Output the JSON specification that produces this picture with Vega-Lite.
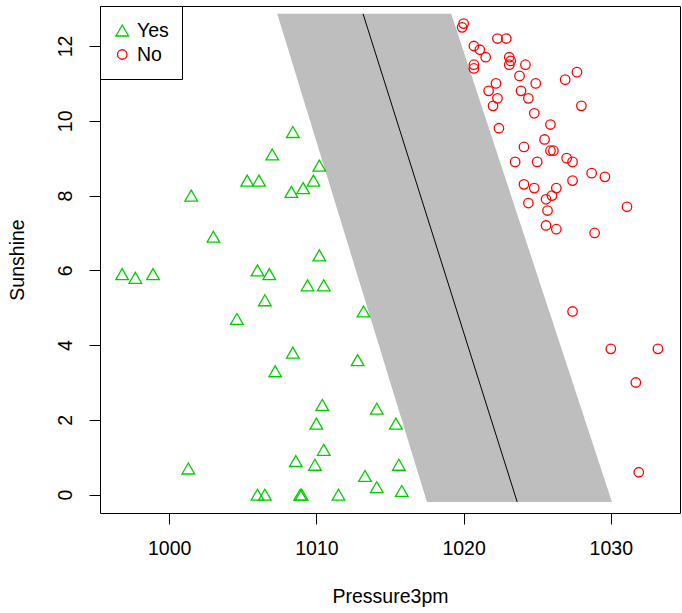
{
  "$schema": "https://vega.github.io/schema/vega-lite/v6.json",
  "width": 580,
  "height": 507,
  "autosize": {"type": "none"},
  "padding": {"left": 100, "top": 6, "right": 2, "bottom": 100},
  "background": "white",
  "datasets": {
    "pts": [
      {"x": 1008.4, "y": 9.7, "RainTomorrow": "Yes"},
      {"x": 1007.0, "y": 9.1, "RainTomorrow": "Yes"},
      {"x": 1010.2, "y": 8.8, "RainTomorrow": "Yes"},
      {"x": 1005.3, "y": 8.4, "RainTomorrow": "Yes"},
      {"x": 1006.1, "y": 8.4, "RainTomorrow": "Yes"},
      {"x": 1009.8, "y": 8.4, "RainTomorrow": "Yes"},
      {"x": 1009.1, "y": 8.2, "RainTomorrow": "Yes"},
      {"x": 1008.3, "y": 8.1, "RainTomorrow": "Yes"},
      {"x": 1001.5, "y": 8.0, "RainTomorrow": "Yes"},
      {"x": 1003.0, "y": 6.9, "RainTomorrow": "Yes"},
      {"x": 1010.2, "y": 6.4, "RainTomorrow": "Yes"},
      {"x": 996.8, "y": 5.9, "RainTomorrow": "Yes"},
      {"x": 997.7, "y": 5.8, "RainTomorrow": "Yes"},
      {"x": 998.9, "y": 5.9, "RainTomorrow": "Yes"},
      {"x": 1006.0, "y": 6.0, "RainTomorrow": "Yes"},
      {"x": 1006.8, "y": 5.9, "RainTomorrow": "Yes"},
      {"x": 1009.4, "y": 5.6, "RainTomorrow": "Yes"},
      {"x": 1010.5, "y": 5.6, "RainTomorrow": "Yes"},
      {"x": 1006.5, "y": 5.2, "RainTomorrow": "Yes"},
      {"x": 1013.2, "y": 4.9, "RainTomorrow": "Yes"},
      {"x": 1004.6, "y": 4.7, "RainTomorrow": "Yes"},
      {"x": 1008.4, "y": 3.8, "RainTomorrow": "Yes"},
      {"x": 1012.8, "y": 3.6, "RainTomorrow": "Yes"},
      {"x": 1007.2, "y": 3.3, "RainTomorrow": "Yes"},
      {"x": 1010.4, "y": 2.4, "RainTomorrow": "Yes"},
      {"x": 1014.1, "y": 2.3, "RainTomorrow": "Yes"},
      {"x": 1010.0, "y": 1.9, "RainTomorrow": "Yes"},
      {"x": 1015.4, "y": 1.9, "RainTomorrow": "Yes"},
      {"x": 1010.5, "y": 1.2, "RainTomorrow": "Yes"},
      {"x": 1001.3, "y": 0.7, "RainTomorrow": "Yes"},
      {"x": 1008.6, "y": 0.9, "RainTomorrow": "Yes"},
      {"x": 1009.9, "y": 0.8, "RainTomorrow": "Yes"},
      {"x": 1015.6, "y": 0.8, "RainTomorrow": "Yes"},
      {"x": 1013.3, "y": 0.5, "RainTomorrow": "Yes"},
      {"x": 1014.1, "y": 0.2, "RainTomorrow": "Yes"},
      {"x": 1015.8, "y": 0.1, "RainTomorrow": "Yes"},
      {"x": 1006.0, "y": 0.0, "RainTomorrow": "Yes"},
      {"x": 1006.5, "y": 0.0, "RainTomorrow": "Yes"},
      {"x": 1008.9, "y": 0.0, "RainTomorrow": "Yes"},
      {"x": 1009.0, "y": 0.0, "RainTomorrow": "Yes"},
      {"x": 1011.5, "y": 0.0, "RainTomorrow": "Yes"},
      {"x": 1020.0, "y": 12.6, "RainTomorrow": "No"},
      {"x": 1019.9, "y": 12.5, "RainTomorrow": "No"},
      {"x": 1022.3, "y": 12.2, "RainTomorrow": "No"},
      {"x": 1022.9, "y": 12.2, "RainTomorrow": "No"},
      {"x": 1020.7, "y": 12.0, "RainTomorrow": "No"},
      {"x": 1021.1, "y": 11.9, "RainTomorrow": "No"},
      {"x": 1021.5, "y": 11.7, "RainTomorrow": "No"},
      {"x": 1023.1, "y": 11.7, "RainTomorrow": "No"},
      {"x": 1023.2, "y": 11.6, "RainTomorrow": "No"},
      {"x": 1023.1, "y": 11.5, "RainTomorrow": "No"},
      {"x": 1020.7, "y": 11.5, "RainTomorrow": "No"},
      {"x": 1020.7, "y": 11.4, "RainTomorrow": "No"},
      {"x": 1024.2, "y": 11.5, "RainTomorrow": "No"},
      {"x": 1027.7, "y": 11.3, "RainTomorrow": "No"},
      {"x": 1026.9, "y": 11.1, "RainTomorrow": "No"},
      {"x": 1023.8, "y": 11.2, "RainTomorrow": "No"},
      {"x": 1022.2, "y": 11.0, "RainTomorrow": "No"},
      {"x": 1024.9, "y": 11.0, "RainTomorrow": "No"},
      {"x": 1021.7, "y": 10.8, "RainTomorrow": "No"},
      {"x": 1023.9, "y": 10.8, "RainTomorrow": "No"},
      {"x": 1022.3, "y": 10.6, "RainTomorrow": "No"},
      {"x": 1024.4, "y": 10.6, "RainTomorrow": "No"},
      {"x": 1022.0, "y": 10.4, "RainTomorrow": "No"},
      {"x": 1028.0, "y": 10.4, "RainTomorrow": "No"},
      {"x": 1024.8, "y": 10.2, "RainTomorrow": "No"},
      {"x": 1025.9, "y": 9.9, "RainTomorrow": "No"},
      {"x": 1022.4, "y": 9.8, "RainTomorrow": "No"},
      {"x": 1025.5, "y": 9.5, "RainTomorrow": "No"},
      {"x": 1024.1, "y": 9.3, "RainTomorrow": "No"},
      {"x": 1025.9, "y": 9.2, "RainTomorrow": "No"},
      {"x": 1026.1, "y": 9.2, "RainTomorrow": "No"},
      {"x": 1023.5, "y": 8.9, "RainTomorrow": "No"},
      {"x": 1025.0, "y": 8.9, "RainTomorrow": "No"},
      {"x": 1027.0, "y": 9.0, "RainTomorrow": "No"},
      {"x": 1027.4, "y": 8.9, "RainTomorrow": "No"},
      {"x": 1028.7, "y": 8.6, "RainTomorrow": "No"},
      {"x": 1029.6, "y": 8.5, "RainTomorrow": "No"},
      {"x": 1027.4, "y": 8.4, "RainTomorrow": "No"},
      {"x": 1024.1, "y": 8.3, "RainTomorrow": "No"},
      {"x": 1024.8, "y": 8.2, "RainTomorrow": "No"},
      {"x": 1026.3, "y": 8.2, "RainTomorrow": "No"},
      {"x": 1026.0, "y": 8.0, "RainTomorrow": "No"},
      {"x": 1025.6, "y": 7.9, "RainTomorrow": "No"},
      {"x": 1024.4, "y": 7.8, "RainTomorrow": "No"},
      {"x": 1031.1, "y": 7.7, "RainTomorrow": "No"},
      {"x": 1025.7, "y": 7.6, "RainTomorrow": "No"},
      {"x": 1025.6, "y": 7.2, "RainTomorrow": "No"},
      {"x": 1026.3, "y": 7.1, "RainTomorrow": "No"},
      {"x": 1028.9, "y": 7.0, "RainTomorrow": "No"},
      {"x": 1027.4, "y": 4.9, "RainTomorrow": "No"},
      {"x": 1030.0, "y": 3.9, "RainTomorrow": "No"},
      {"x": 1033.2, "y": 3.9, "RainTomorrow": "No"},
      {"x": 1031.7, "y": 3.0, "RainTomorrow": "No"},
      {"x": 1031.9, "y": 0.6, "RainTomorrow": "No"}
    ],
    "band": [
      {"y": -0.195, "xl": 1017.51, "xr": 1030.08},
      {"y": 12.86, "xl": 1007.34, "xr": 1019.16}
    ],
    "boundary": [
      {"x": 1023.64, "y": -0.195},
      {"x": 1013.17, "y": 12.86}
    ]
  },
  "config": {
    "font": "Liberation Sans",
    "view": {"stroke": "black", "strokeWidth": 1},
    "axis": {
      "grid": false,
      "domain": false,
      "tickColor": "black",
      "tickSize": 11,
      "tickWidth": 1,
      "labelFont": "Liberation Sans",
      "labelFontSize": 19.5,
      "labelColor": "black",
      "titleFont": "Liberation Sans",
      "titleFontSize": 19.5,
      "titleFontWeight": "normal",
      "titleColor": "black"
    },
    "legend": {
      "orient": "top-left",
      "offset": 0,
      "padding": 12.5,
      "strokeColor": "black",
      "strokeWidth": 1,
      "fillColor": "white",
      "cornerRadius": 0,
      "labelFont": "Liberation Sans",
      "labelFontSize": 19.5,
      "labelColor": "black",
      "labelOffset": 5,
      "rowPadding": 0,
      "clipHeight": 24,
      "symbolStrokeWidth": 1.3,
      "symbolFillColor": "transparent"
    }
  },
  "layer": [
    {
      "data": {"name": "band"},
      "mark": {"type": "area", "orient": "horizontal", "color": "#BEBEBE", "opacity": 1},
      "encoding": {
        "y": {"field": "y", "type": "quantitative", "title": "Sunshine",
              "scale": {"domain": [-0.49, 13.07], "nice": false, "zero": false},
              "axis": {"values": [0, 2, 4, 6, 8, 10, 12], "labelAngle": 270, "labelAlign": "center", "labelBaseline": "bottom", "labelPadding": 14, "titlePadding": 28, "labelFlush": false}},
        "x": {"field": "xl", "type": "quantitative", "title": "Pressure3pm",
              "scale": {"domain": [995.3, 1034.7], "nice": false, "zero": false},
              "axis": {"values": [1000, 1010, 1020, 1030], "format": "d", "labelPadding": 15, "titlePadding": 30, "labelFlush": false}},
        "x2": {"field": "xr"}
      }
    },
    {
      "data": {"name": "boundary"},
      "mark": {"type": "line", "color": "black", "strokeWidth": 1},
      "encoding": {
        "x": {"field": "x", "type": "quantitative", "title": "Pressure3pm"},
        "y": {"field": "y", "type": "quantitative", "title": "Sunshine"}
      }
    },
    {
      "data": {"name": "pts"},
      "mark": {"type": "point", "filled": false, "strokeWidth": 1.3, "opacity": 1},
      "encoding": {
        "x": {"field": "x", "type": "quantitative", "title": "Pressure3pm"},
        "y": {"field": "y", "type": "quantitative", "title": "Sunshine"},
        "color": {"field": "RainTomorrow", "type": "nominal", "title": null, "scale": {"domain": ["Yes", "No"], "range": ["#00CD00", "#FF0000"]}},
        "shape": {"field": "RainTomorrow", "type": "nominal", "title": null, "scale": {"domain": ["Yes", "No"], "range": ["triangle-up", "circle"]}},
        "size": {"field": "RainTomorrow", "type": "nominal", "title": null, "scale": {"domain": ["Yes", "No"], "range": [160, 90]}}
      }
    }
  ]
}
